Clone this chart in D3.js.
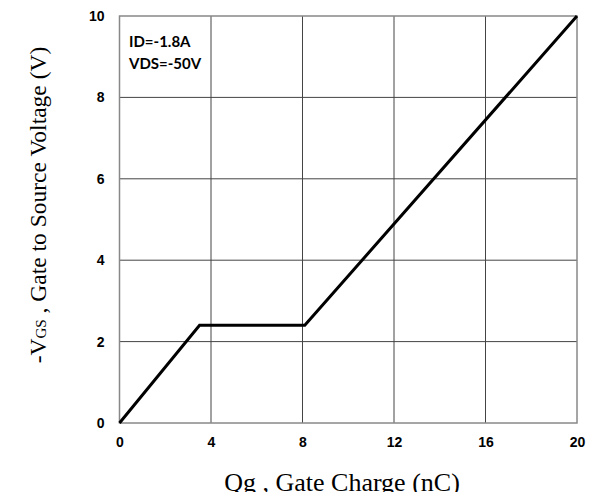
<!DOCTYPE html>
<html lang="en">
<head>
    <meta charset="UTF-8">
    <title>Gate Charge</title>
    <script src="https://cdn.jsdelivr.net/npm/d3@7"></script>
    <style>
        body { margin: 0; background: #fff; }
        svg { display: block; }
    </style>
</head>
<body>
<script>
    'use strict';

    // curve points (Qg nC, -VGS V)
    var qg = [0, 3.5, 8.1, 20];
    var vgs = [0, 2.4, 2.4, 10];
    var xTicks = [0, 4, 8, 12, 16, 20];
    var yTicks = [0, 2, 4, 6, 8, 10];
    var notes = ['ID=-1.8A', 'VDS=-50V'];

    var w = 596, h = 497;
    var m = {left: 119.5, right: 19, top: 16, bottom: 74};

    var svg = d3.select('body').append('svg')
        .attr('width', w)
        .attr('height', h);

    var x = d3.scaleLinear().domain([0, 20]).range([m.left, w - m.right]);
    var y = d3.scaleLinear().domain([0, 10]).range([h - m.bottom, m.top]);

    // grid
    var grid = svg.append('g');
    grid.selectAll('.vx').data(xTicks.slice(1, -1)).enter().append('line')
        .attr('x1', d => x(d)).attr('x2', d => x(d))
        .attr('y1', y(0)).attr('y2', y(10))
        .attr('stroke', '#444').attr('stroke-width', 1);
    grid.selectAll('.hy').data(yTicks.slice(1, -1)).enter().append('line')
        .attr('x1', x(0)).attr('x2', x(20))
        .attr('y1', d => y(d)).attr('y2', d => y(d))
        .attr('stroke', '#444').attr('stroke-width', 1);

    // frame
    svg.append('rect')
        .attr('x', x(0)).attr('y', y(10))
        .attr('width', x(20) - x(0)).attr('height', y(0) - y(10))
        .attr('fill', 'none').attr('stroke', '#888').attr('stroke-width', 1.5);

    // axes (labels only)
    var axB = d3.axisBottom(x).tickValues(xTicks).tickSize(0).tickPadding(14);
    var axL = d3.axisLeft(y).tickValues(yTicks).tickSize(0).tickPadding(15);

    var gx = svg.append('g').attr('transform', 'translate(0,' + y(0) + ')').call(axB);
    var gy = svg.append('g').attr('transform', 'translate(' + x(0) + ',0)').call(axL);
    [gx, gy].forEach(g => {
        g.select('.domain').remove();
        g.selectAll('text')
            .attr('fill', '#000')
            .style('font-family', 'Liberation Sans, Arial, sans-serif')
            .style('font-size', '14px')
            .style('font-weight', 'bold');
    });

    // curve
    var pts = qg.map((q, i) => [q, vgs[i]]);
    svg.append('path')
        .datum(pts)
        .attr('d', d3.line().x(d => x(d[0])).y(d => y(d[1])))
        .attr('fill', 'none')
        .attr('stroke', '#000')
        .attr('stroke-width', 3)
        .attr('stroke-linejoin', 'miter');

    // conditions
    svg.append('g').selectAll('text').data(notes).enter().append('text')
        .attr('x', x(0) + 9.5)
        .attr('y', (d, i) => 46.5 + i * 22.5)
        .style('font-family', 'Lato, sans-serif')
        .style('font-size', '15px')
        .style('font-weight', 'bold')
        .text(d => d);

    // axis titles (x title is cut off at the bottom in the original)
    svg.append('clipPath').attr('id', 'cut')
        .append('rect').attr('x', 0).attr('y', 0).attr('width', w).attr('height', 492);

    svg.append('text')
        .attr('clip-path', 'url(#cut)')
        .attr('x', 342).attr('y', 491)
        .attr('text-anchor', 'middle')
        .style('font-family', 'Liberation Serif, Times New Roman, serif')
        .style('font-size', '26px')
        .text('Qg , Gate Charge (nC)');

    var yt = svg.append('text')
        .attr('transform', 'translate(46,205) rotate(-90)')
        .attr('text-anchor', 'middle')
        .style('font-family', 'Liberation Serif, Times New Roman, serif')
        .style('font-size', '23.5px');
    yt.append('tspan').text('-V');
    yt.append('tspan').style('font-size', '15px').text('GS');
    yt.append('tspan').text(' , Gate to Source Voltage (V)');
</script>
</body>
</html>
